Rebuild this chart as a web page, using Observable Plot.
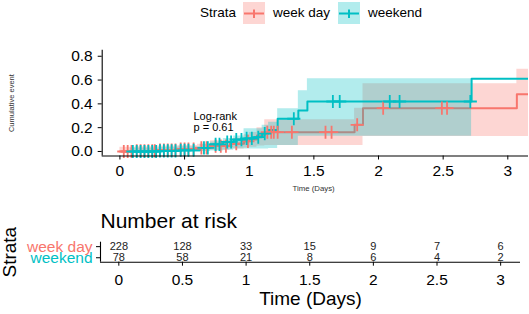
<!DOCTYPE html>
<html><head><meta charset="utf-8">
<script src="https://cdn.jsdelivr.net/npm/d3@7"></script>
<script src="https://cdn.jsdelivr.net/npm/@observablehq/plot@0.6"></script>
<style>
body{margin:0;background:#fff;font-family:"Liberation Sans",Arial,sans-serif;}
#wrap{position:relative;width:529px;height:314px;overflow:hidden;background:#fff}
#legend{position:absolute;left:0;top:0;width:529px;height:28px;font-size:13.5px;color:#000}
#legend span{position:absolute;top:5px;line-height:16px;white-space:nowrap}
#legend svg{position:absolute;top:2px}
#topPanel{position:absolute;left:0;top:28px}
#botPanel{position:absolute;left:0;top:198px}
</style></head><body>
<div id="wrap">
  <div id="legend"></div>
  <div id="topPanel"></div>
  <div id="botPanel"></div>
</div>
<script>
// ---------------- data ----------------
const strata = ["week day", "weekend"];
const colors = ["#F8766D", "#00BFC4"];

// week day: step times, cumulative event estimate, CI
const wdTime  = [0,     0.12,  0.28,  0.45,  0.60,  0.70,  0.85,  0.96,  1.00,  1.06,  1.12,  1.815, 1.88,  3.07];
const wdEst   = [0,     0.005, 0.012, 0.02,  0.03,  0.045, 0.065, 0.085, 0.10,  0.135, 0.162, 0.224, 0.364, 0.48];
const wdLower = [0,     0,     0,     0,     0.003, 0.01,  0.02,  0.03,  0.035, 0.045, 0.05,  0.05,  0.126, 0.126];
const wdUpper = [0.035, 0.04,  0.045, 0.05,  0.06,  0.09,  0.11,  0.14,  0.16,  0.20,  0.266, 0.364, 0.57,  0.69];

// weekend
const weTime  = [0.08, 0.30,  0.45, 0.62, 0.70,  0.80, 0.88, 0.96,  1.04, 1.10, 1.15,  1.22,  1.38,  1.45, 2.72];
const weEst   = [0,    0.005, 0.01, 0.03, 0.06,  0.08, 0.10, 0.11,  0.12, 0.15, 0.18,  0.275, 0.344, 0.42, 0.61];
const weLower = [0,    0,     0,    0,    0.005, 0.01, 0.02, 0.02,  0.02, 0.02, 0.025, 0.05,  0.128, 0.128, null];
const weUpper = [0.03, 0.035, 0.04, 0.06, 0.08,  0.11, 0.13, 0.19,  0.19, 0.22, 0.245, 0.36,  0.51,  0.61, null];

const tEnd = 3.16;

// censoring times
const wdCensor = [0.03,0.06,0.09,0.13,0.16,0.19,0.22,0.25,0.27,0.31,0.34,0.37,0.40,0.43,0.47,0.50,0.53,0.57,0.63,0.67,0.74,0.78,0.82,0.90,0.99,1.14,1.17,1.19,1.22,1.33,1.59,1.637,1.835,2.036,2.49,2.53];
const weCensor = [0.10,0.13,0.16,0.19,0.22,0.25,0.28,0.31,0.34,0.37,0.40,0.43,0.47,0.50,0.53,0.57,0.65,0.68,0.74,0.77,0.83,0.86,0.90,0.94,0.98,1.02,1.07,1.12,1.345,1.647,1.70,2.087,2.163,2.71];

// number at risk table
const riskTimes = [0, 0.5, 1, 1.5, 2, 2.5, 3];
const wdRisk = [228, 128, 33, 15, 9, 7, 6];
const weRisk = [78, 58, 21, 8, 6, 4, 2];

const xTicks = [0, 0.5, 1, 1.5, 2, 2.5, 3];
const yTicks = [0, 0.2, 0.4, 0.6, 0.8];
const pvalLabel = "Log-rank\np = 0.61";

// ---------------- helpers ----------------
function lineRows(time, est) {
  const rows = time.map((t, i) => ({t, v: est[i]}));
  rows.push({t: tEnd, v: est[est.length - 1]});
  return rows;
}
function bandRows(time, lo, hi) {
  let k = -1;
  for (let i = 0; i < time.length; i++) { if (lo[i] == null) break; k = i; }
  const rows = [];
  for (let i = 0; i <= k; i++) rows.push({t: time[i], lo: lo[i], hi: hi[i]});
  const end = (k + 1 < time.length) ? time[k + 1] : tEnd;
  rows.push({t: end, lo: lo[k], hi: hi[k]});
  return rows;
}
function censorRows(times, time, est) {
  return times.map(t => {
    const i = d3.bisectRight(time, t) - 1;
    return {t, v: i < 0 ? 0 : est[i]};
  });
}

const font = '"Liberation Sans", Arial, sans-serif';

// ---------------- legend ----------------
const legendEl = document.getElementById("legend");
function addText(txt, left) {
  const s = document.createElement("span");
  s.textContent = txt; s.style.left = left + "px";
  legendEl.appendChild(s);
}
function addKey(color, left) {
  const ns = "http://www.w3.org/2000/svg";
  const svg = document.createElementNS(ns, "svg");
  svg.setAttribute("width", 22); svg.setAttribute("height", 22);
  svg.style.left = left + "px";
  svg.innerHTML = `<rect width="22" height="22" fill="${color}" fill-opacity="0.3"/>
    <line x1="1" x2="21" y1="11.5" y2="11.5" stroke="${color}" stroke-width="2"/>
    <line x1="11" x2="11" y1="7.5" y2="16" stroke="${color}" stroke-width="2"/>`;
  legendEl.appendChild(svg);
}
addText("Strata", 200);
addKey(colors[0], 243);
addText(strata[0], 273);
addKey(colors[1], 338);
addText(strata[1], 368);

// ---------------- top: cumulative event curves ----------------
const xLo = -0.137, yLo = -0.038, yHi = 0.85;
const topChart = Plot.plot({
  width: 529, height: 170,
  marginLeft: 101.7, marginRight: 1, marginTop: 21.8, marginBottom: 42.5,
  x: {domain: [xLo, tEnd]},
  y: {domain: [yLo, yHi]},
  style: {fontFamily: font, color: "#000", background: "transparent", overflow: "visible"},
  marks: [
    Plot.areaY(bandRows(wdTime, wdLower, wdUpper), {x: "t", y1: "lo", y2: "hi", curve: "step-after", fill: colors[0], fillOpacity: 0.3, clip: true}),
    Plot.line(lineRows(wdTime, wdEst), {x: "t", y: "v", curve: "step-after", stroke: colors[0], strokeWidth: 2, clip: true}),
    Plot.areaY(bandRows(weTime, weLower, weUpper), {x: "t", y1: "lo", y2: "hi", curve: "step-after", fill: colors[1], fillOpacity: 0.3, clip: true}),
    Plot.line(lineRows(weTime, weEst), {x: "t", y: "v", curve: "step-after", stroke: colors[1], strokeWidth: 2, clip: true}),
    Plot.dot(censorRows(wdCensor, wdTime, wdEst), {x: "t", y: "v", symbol: "plus", r: 4.3, stroke: colors[0], strokeWidth: 1.8}),
    Plot.dot(censorRows(weCensor, weTime, weEst), {x: "t", y: "v", symbol: "plus", r: 4.3, stroke: colors[1], strokeWidth: 1.8}),
    Plot.ruleY([yLo], {stroke: "#000", strokeWidth: 1.1}),
    Plot.ruleX([xLo], {stroke: "#000", strokeWidth: 1.1}),
    Plot.axisX({ticks: xTicks, tickSize: 4, tickPadding: 5, tickFormat: d => String(d), fontSize: 15.5, label: null, stroke: "#000"}),
    Plot.axisY({ticks: yTicks, tickSize: 4, tickPadding: 5.5, tickFormat: d => d.toFixed(1), fontSize: 15.5, label: null, stroke: "#000"}),
    Plot.text([pvalLabel], {frameAnchor: "top-left", dx: 91.3, dy: 61.9, lineAnchor: "top", textAnchor: "start", fontSize: 11, lineHeight: 1.0, fill: "#000"}),
    Plot.text(["Cumulative event"], {frameAnchor: "left", dx: -90.2, rotate: -90, fontSize: 7.5, fill: "#333", textAnchor: "middle", lineAnchor: "middle"}),
    Plot.text(["Time (Days)"], {frameAnchor: "bottom", dx: -1.8, dy: 32.3, fontSize: 7.8, fill: "#333", textAnchor: "middle", lineAnchor: "middle"})
  ]
});
document.getElementById("topPanel").appendChild(topChart);

// ---------------- bottom: number at risk table ----------------
const xLoB = -0.144, xHiB = 3.156;
const riskData = [];
riskTimes.forEach((t, i) => {
  riskData.push({t, row: 0, n: wdRisk[i]});
  riskData.push({t, row: 1, n: weRisk[i]});
});
const botChart = Plot.plot({
  width: 529, height: 116,
  marginLeft: 100, marginRight: 9, marginTop: 43.7, marginBottom: 52.3,
  x: {domain: [xLoB, xHiB]},
  y: {domain: [-0.4, 1.4], reverse: true},
  color: {type: "identity"},
  style: {fontFamily: font, color: "#000", background: "transparent", overflow: "visible"},
  marks: [
    Plot.text(riskData, {x: "t", y: "row", text: "n", fontSize: 11, fill: "#222"}),
    Plot.ruleY([1.4], {stroke: "#000", strokeWidth: 1.1}),
    Plot.ruleX([xLoB], {stroke: "#000", strokeWidth: 1.1}),
    Plot.axisX({ticks: xTicks, tickSize: 4, tickPadding: 8, tickFormat: d => String(d), fontSize: 15.5, label: null, stroke: "#000"}),
    Plot.axisY({ticks: [0, 1], tickSize: 4, tickFormat: () => "", label: null, stroke: "#000"}),
    Plot.text(strata, {y: (d, i) => i, frameAnchor: "left", dx: -8, textAnchor: "end", lineAnchor: "middle", fontSize: 15.5, fill: (d, i) => colors[i]}),
    Plot.text(["Number at risk"], {frameAnchor: "top-left", dx: 0, dy: -21, textAnchor: "start", lineAnchor: "middle", fontSize: 21, fill: "#000"}),
    Plot.text(["Strata"], {frameAnchor: "left", dx: -90.5, rotate: -90, textAnchor: "middle", lineAnchor: "middle", fontSize: 19, fill: "#000"}),
    Plot.text(["Time (Days)"], {frameAnchor: "bottom", dx: 0, dy: 37.2, textAnchor: "middle", lineAnchor: "middle", fontSize: 19, fill: "#000"})
  ]
});
document.getElementById("botPanel").appendChild(botChart);
</script>
</body></html>
